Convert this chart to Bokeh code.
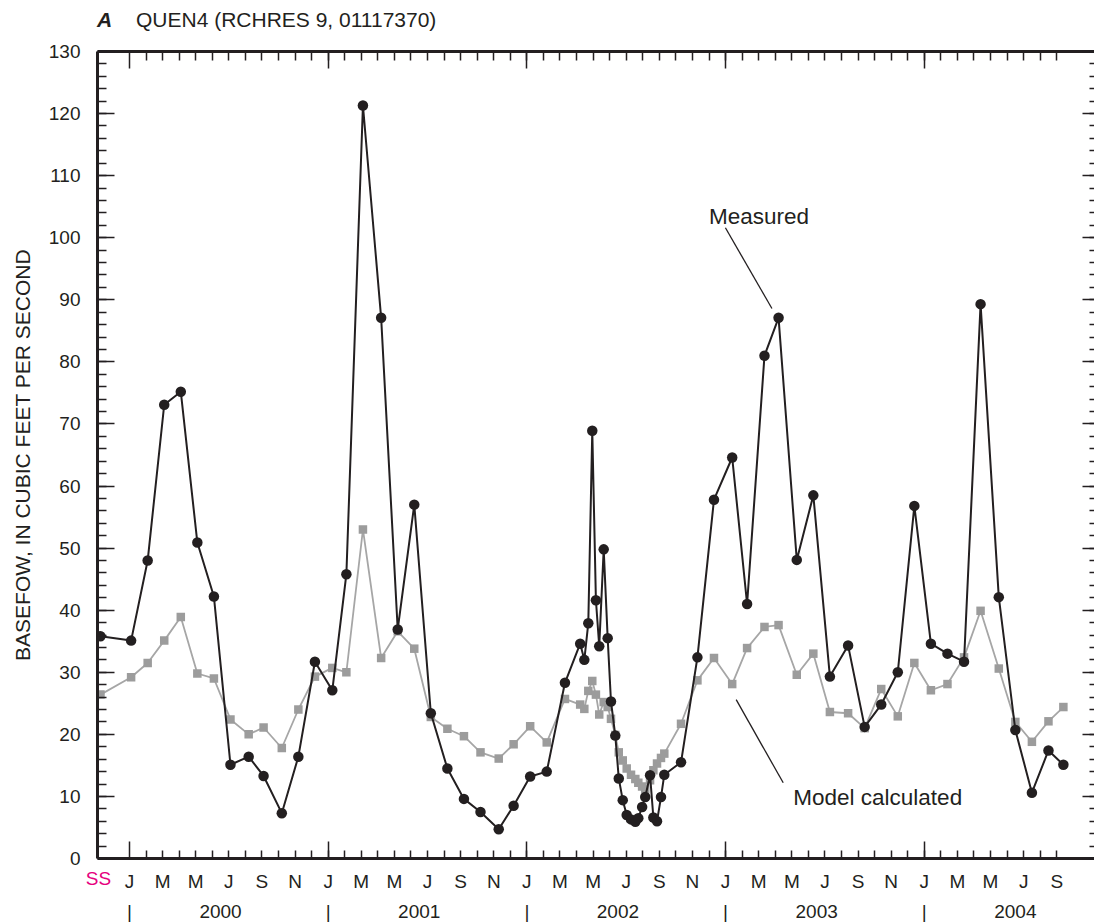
from bokeh.plotting import figure
from bokeh.models import Range1d, LinearAxis, FixedTicker, SingleIntervalTicker, Label, Div
from bokeh.layouts import column
from bokeh.embed import file_html
from bokeh.resources import INLINE

# ---- data (x = months after 1 Jan 2000; first point = steady state "SS") ----
sample_month = [-1.75, 0.1, 1.1, 2.1, 3.1, 4.1, 5.1, 6.1, 7.2, 8.1, 9.2, 10.2, 11.2,
                12.25, 13.1, 14.1, 15.2, 16.2, 17.2, 18.2, 19.2, 20.2, 21.2, 22.3, 23.2,
                24.2, 25.2, 26.3, 27.22, 27.47, 27.71, 27.95, 28.17, 28.37, 28.64, 28.88,
                29.08, 29.34, 29.55, 29.79, 30.03, 30.29, 30.55, 30.73, 30.96, 31.15,
                31.44, 31.64, 31.86, 32.10, 32.30, 33.31, 34.3, 35.3, 36.4, 37.3, 38.35,
                39.2, 40.3, 41.3, 42.3, 43.4, 44.4, 45.4, 46.4, 47.4, 48.4, 49.4, 50.4,
                51.4, 52.5, 53.5, 54.5, 55.5, 56.4]
measured_cfs = [35.8, 35.1, 48.0, 73.1, 75.2, 50.9, 42.2, 15.1, 16.4, 13.3, 7.3, 16.4, 31.7,
                27.1, 45.8, 121.3, 87.1, 36.9, 57.0, 23.4, 14.5, 9.6, 7.5, 4.7, 8.5,
                13.2, 14.0, 28.3, 34.6, 32.0, 37.9, 68.9, 41.6, 34.2, 49.8, 35.5,
                25.3, 19.8, 12.9, 9.4, 7.0, 6.3, 5.9, 6.5, 8.3, 9.9, 13.4, 6.6, 6.0, 9.9, 13.5,
                15.5, 32.4, 57.8, 64.6, 41.0, 81.0, 87.1, 48.1, 58.5, 29.3, 34.3, 21.2, 24.8,
                30.0, 56.8, 34.6, 33.0, 31.7, 89.3, 42.1, 20.7, 10.6, 17.4, 15.1]
model_cfs = [26.4, 29.2, 31.5, 35.1, 38.9, 29.8, 29.0, 22.4, 20.0, 21.1, 17.8, 24.0, 29.3,
             30.7, 30.0, 53.0, 32.3, 36.6, 33.8, 22.8, 20.9, 19.7, 17.1, 16.1, 18.4,
             21.3, 18.7, 25.7, 24.8, 24.1, 27.0, 28.6, 26.4, 23.2, 25.2, 24.4,
             22.5, 19.9, 17.1, 15.8, 14.5, 13.5, 12.8, 12.2, 11.6, 11.2, 12.6, 14.2, 15.3, 16.2, 16.9,
             21.7, 28.7, 32.3, 28.1, 33.9, 37.3, 37.6, 29.6, 33.0, 23.6, 23.4, 21.0, 27.3,
             22.9, 31.5, 27.1, 28.1, 32.4, 39.9, 30.6, 22.0, 18.8, 22.1, 24.4]
years = ["2000", "2001", "2002", "2003", "2004"]
month_letters = ["J", "M", "M", "J", "S", "N"]
ss_label = "SS"
title_letter = "A"
title_text = "QUEN4 (RCHRES 9, 01117370)"
y_title = "BASEFOW, IN CUBIC FEET PER SECOND"

# ---- styling / annotation placement ----
FONT = "Liberation Sans"
INK = "#231f20"
GRAY_LINE = "#a6a6a6"
GRAY_MARK = "#9c9c9c"
PINK = "#e6007e"
X_START, X_END = -1.93, 58.28
SS_POS = -1.87
N_MONTHS = 56
TITLE_H = 40
LABEL_H = 21

jan_ticks = [12 * i for i in range(len(years))]
month_ticks = list(range(1, N_MONTHS + 1))
letter_ticks = list(range(0, N_MONTHS + 1, 2))
letter_over = {m: month_letters[(m // 2) % 6] for m in letter_ticks}
year_ticks = []
year_over = {}
for i, yr in enumerate(years):
    year_ticks += [12 * i, 12 * i + 5.5]
    year_over[12 * i] = "|"
    year_over[12 * i + 5.5] = yr

title_div = Div(
    text=(f'<div style="position:relative;width:1094px;height:{TITLE_H}px;'
          f'font-family:\'{FONT}\';font-size:21px;line-height:21px;color:{INK};white-space:nowrap">'
          f'<span style="position:absolute;left:97px;top:9px;font-weight:bold;font-style:italic">'
          f'{title_letter}</span>'
          f'<span style="position:absolute;left:136px;top:9px">{title_text}</span></div>'),
    width=1094, height=TITLE_H, margin=(0, 0, 0, 0))

p = figure(width=1094, height=924 - TITLE_H, output_backend="svg", toolbar_location=None,
           x_range=Range1d(X_START, X_END), y_range=Range1d(0, 130),
           x_axis_location=None, y_axis_location=None, margin=(0, 0, 0, 0),
           min_border_left=97, min_border_right=0, min_border_top=51 - TITLE_H,
           min_border_bottom=66)
p.outline_line_color = None
p.background_fill_color = "white"
p.border_fill_color = "white"
for g in p.grid:
    g.visible = False


def base_axis(ax, width=3):
    ax.axis_line_color = INK
    ax.axis_line_width = width
    ax.major_tick_line_color = INK
    ax.minor_tick_line_color = INK
    ax.major_tick_line_width = 1.5
    ax.minor_tick_line_width = 1.5
    ax.major_tick_out = 0
    ax.minor_tick_out = 0
    ax.major_label_text_font = FONT
    ax.major_label_text_color = INK


def ticks_only(ax):
    ax.major_label_text_font_size = "1px"
    ax.major_label_text_color = None
    ax.major_label_standoff = 0


def labels_only(ax):
    ax.axis_line_color = None
    ax.major_tick_line_color = None
    ax.minor_tick_line_color = None


yax = LinearAxis(ticker=SingleIntervalTicker(interval=10, num_minor_ticks=5))
base_axis(yax)
yax.major_tick_in = 17
yax.minor_tick_in = 9
yax.major_label_text_font_size = "19px"
yax.major_label_standoff = 17
yax.axis_label = y_title
yax.axis_label_text_font = FONT
yax.axis_label_text_font_size = "21px"
yax.axis_label_text_font_style = "normal"
yax.axis_label_text_color = INK
yax.axis_label_standoff = 12
p.add_layout(yax, "left")

rax = LinearAxis(ticker=SingleIntervalTicker(interval=10, num_minor_ticks=5))
base_axis(rax)
rax.axis_line_color = None
rax.major_tick_in = 12
rax.minor_tick_in = 5
ticks_only(rax)
p.add_layout(rax, "right")

tax = LinearAxis(ticker=FixedTicker(ticks=jan_ticks, minor_ticks=month_ticks))
base_axis(tax)
tax.major_tick_in = 17
tax.minor_tick_in = 9
ticks_only(tax)
p.add_layout(tax, "above")

bax = LinearAxis(ticker=FixedTicker(ticks=jan_ticks, minor_ticks=month_ticks))
base_axis(bax)
bax.major_tick_in = 17
bax.minor_tick_in = 8
ticks_only(bax)
p.add_layout(bax, "below")

ssax = LinearAxis(ticker=FixedTicker(ticks=[SS_POS], minor_ticks=[]),
                  major_label_overrides={SS_POS: ss_label})
base_axis(ssax)
labels_only(ssax)
ssax.major_label_text_font_size = "19px"
ssax.major_label_text_color = PINK
ssax.major_label_standoff = 9
p.add_layout(ssax, "below")

lax = LinearAxis(ticker=FixedTicker(ticks=letter_ticks, minor_ticks=[]),
                 major_label_overrides=letter_over)
base_axis(lax)
labels_only(lax)
lax.major_label_text_font_size = "19px"
lax.major_label_standoff = -LABEL_H
p.add_layout(lax, "below")

yrax = LinearAxis(ticker=FixedTicker(ticks=year_ticks, minor_ticks=[]),
                  major_label_overrides=year_over)
base_axis(yrax)
labels_only(yrax)
yrax.major_label_text_font_size = "19px"
yrax.major_label_standoff = 6
p.add_layout(yrax, "below")

# ---- series ----
p.line(sample_month, model_cfs, line_color=GRAY_LINE, line_width=1.8)
p.scatter(sample_month, model_cfs, marker="square", size=8.5,
          fill_color=GRAY_MARK, line_color=None)
p.line(sample_month, measured_cfs, line_color=INK, line_width=2)
p.scatter(sample_month, measured_cfs, marker="circle", size=10.5,
          fill_color=INK, line_color=None)

# ---- callouts ----
p.segment(x0=[35.99], y0=[101.6], x1=[38.8], y1=[88.6], line_color=INK, line_width=1.3)
p.segment(x0=[36.64], y0=[25.6], x1=[39.48], y1=[12.2], line_color=INK, line_width=1.3)
p.add_layout(Label(x=35.0, y=103.4, text="Measured", text_font=FONT, text_font_size="22.5px",
                   text_color=INK, text_baseline="alphabetic"))
p.add_layout(Label(x=40.09, y=9.8, text="Model calculated", text_font=FONT,
                   text_font_size="22.5px", text_color=INK, text_baseline="alphabetic"))

layout = column(title_div, p, spacing=0)
open("out.html", "w").write(file_html(layout, INLINE))
